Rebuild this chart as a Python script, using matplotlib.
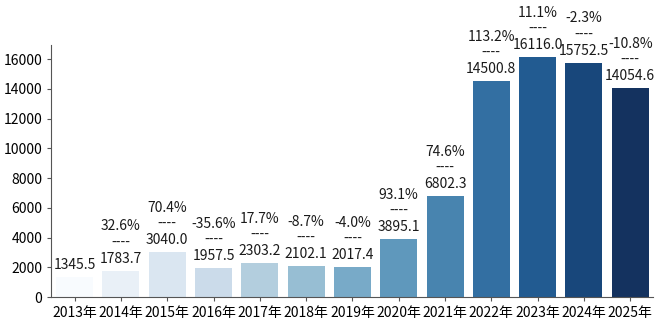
import numpy as np
import matplotlib
matplotlib.use("Agg")
import matplotlib.pyplot as plt
import seaborn as sns

years = ["2013年", "2014年", "2015年", "2016年", "2017年", "2018年", "2019年",
         "2020年", "2021年", "2022年", "2023年", "2024年", "2025年"]
values = [1345.5, 1783.7, 3040.0, 1957.5, 2303.2, 2102.1, 2017.4,
          3895.1, 6802.3, 14500.8, 16116.0, 15752.5, 14054.6]
growth = [None, "32.6%", "70.4%", "-35.6%", "17.7%", "-8.7%", "-4.0%",
          "93.1%", "74.6%", "113.2%", "11.1%", "-2.3%", "-10.8%"]

plt.rcParams['font.family'] = ['Noto Sans CJK SC', 'DejaVu Sans']

fig, ax = plt.subplots(figsize=(6.6, 3.24), dpi=100)
colors = plt.cm.Blues(np.linspace(0, 1, len(years)))
sns.barplot(x=years, y=values, hue=years, palette=list(colors), legend=False, ax=ax)

# value labels with growth rate on top
for i, (v, g) in enumerate(zip(values, growth)):
    label = f"{v:.1f}" if g is None else f"{g}\n----\n{v:.1f}"
    ax.text(i, v + 330, label, ha='center', va='bottom', fontsize=10,
            linespacing=1.2, color='#1a1a1a')

ax.set_ylim(0, max(values) * 1.05)
ax.set_yticks(range(0, 16001, 2000))
ax.tick_params(labelsize=10, length=3, color='#555555')
for s in ['top', 'right']:
    ax.spines[s].set_visible(False)
for s in ['left', 'bottom']:
    ax.spines[s].set_color('#555555')
ax.set_xlabel("")
ax.set_ylabel("")

plt.subplots_adjust(left=0.078, right=0.99, top=0.86, bottom=0.083)
plt.savefig("out.png")
